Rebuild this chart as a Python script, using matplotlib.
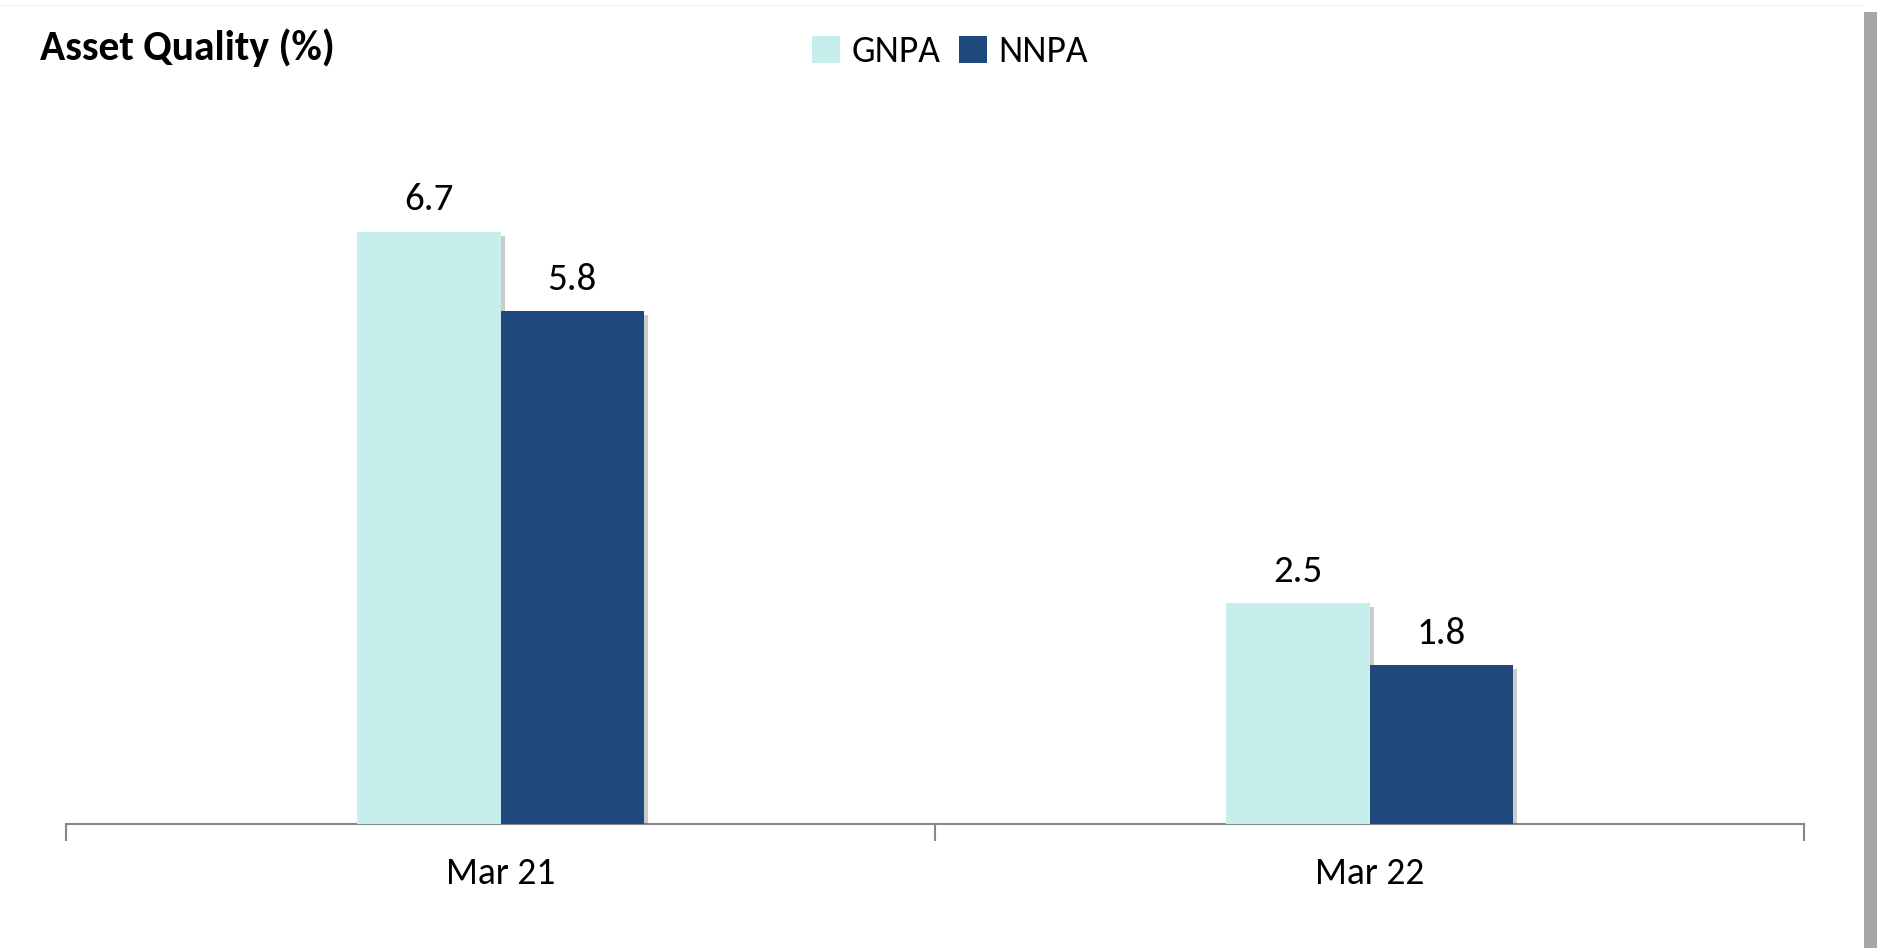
import matplotlib
matplotlib.use("Agg")
import matplotlib.pyplot as plt
import matplotlib.patheffects as pe
from matplotlib.patches import Rectangle, Patch
import numpy as np

plt.rcParams['font.family'] = ['Carlito', 'Lato', 'DejaVu Sans']

categories = ["Mar 21", "Mar 22"]
series_names = ["GNPA", "NNPA"]
gnpa = [6.7, 2.5]
nnpa = [5.8, 1.8]
colors = ["#C6EEEC", "#1F497D"]

fig = plt.figure(figsize=(18.77, 9.48), dpi=100)
ax = fig.add_axes([66/1877, 1-824/948, (1804-66)/1877, 663/948])

x = np.arange(len(categories))
w = 0.165
shadow = [pe.SimplePatchShadow(offset=(3, -3), shadow_rgbFace='#555555', alpha=0.3), pe.Normal()]
b1 = ax.bar(x - w/2, gnpa, w, color=colors[0], zorder=3)
b2 = ax.bar(x + w/2, nnpa, w, color=colors[1], zorder=3)
for b in list(b1) + list(b2):
    b.set_path_effects(shadow)

for bars, vals in ((b1, gnpa), (b2, nnpa)):
    for rect, v in zip(bars, vals):
        ax.annotate(f"{v:.1f}", (rect.get_x() + rect.get_width()/2, v),
                    xytext=(0, 11), textcoords="offset points",
                    ha="center", va="bottom", fontsize=28, color="black")

ax.set_xlim(-0.5, len(categories) - 0.5)
ax.set_ylim(0, 7.5)
ax.set_yticks([])
for s in ("top", "right", "left"):
    ax.spines[s].set_visible(False)
ax.spines["bottom"].set_color("#868686")
ax.spines["bottom"].set_linewidth(1.5)
ax.set_xticks(x)
ax.set_xticklabels(categories, fontsize=27)
ax.tick_params(axis="x", which="major", length=0, pad=24)
ax.set_xticks(np.arange(len(categories) + 1) - 0.5, minor=True)
ax.tick_params(axis="x", which="minor", length=12, width=1.5, color="#868686")

fig.text(40/1877, 1-48/948, "Asset Quality (%)", fontsize=30, fontweight="bold",
         ha="left", va="center")

handles = [Patch(facecolor=c, edgecolor="none") for c in colors]
fig.legend(handles, series_names, loc="center", bbox_to_anchor=(950/1877, 1-52/948), ncol=2,
           frameon=False, fontsize=27, handlelength=0.75, handleheight=0.75,
           handletextpad=0.3, columnspacing=0.5)

# figure border shadow on the right edge
fig.patches.append(Rectangle((1864/1877, 0), 13/1877, 1-12/948, transform=fig.transFigure,
                             facecolor="#A6A6A6", edgecolor="none", zorder=0))
fig.patches.append(Rectangle((0, 1-6/948), 1864/1877, 1/948, transform=fig.transFigure,
                             facecolor="#EEEEEE", edgecolor="none", zorder=0))

fig.savefig("out.png", dpi=100)
